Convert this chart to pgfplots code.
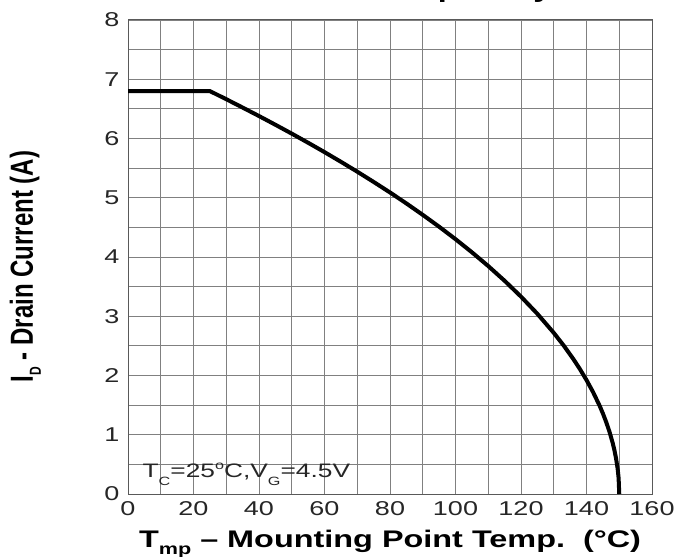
\documentclass[border=0pt]{standalone}
\usepackage{pgfplots}
\pgfplotsset{compat=1.18}
\usepackage{pgfplotstable}
\usepackage{fontspec}
\setmainfont[FakeStretch=1.35]{Liberation Sans}
\newfontfamily\plainfont{Liberation Sans}

\pgfplotstableread{
T I
0 6.8
25 6.8
30 6.663
35 6.522
40 6.379
45 6.232
50 6.082
55 5.928
60 5.770
65 5.607
70 5.440
75 5.267
80 5.089
85 4.904
90 4.711
95 4.511
100 4.301
105 4.080
110 3.847
115 3.598
120 3.331
125 3.041
130 2.720
133 2.508
136 2.276
138 2.107
140 1.923
142 1.720
144 1.490
145 1.360
146 1.216
147 1.053
148 0.860
148.5 0.745
149 0.608
149.5 0.430
149.8 0.272
150 0
}\curve

\begin{document}
\begin{tikzpicture}
\begin{axis}[
  scale only axis, width=524pt, height=474pt,
  at={(0,0)}, anchor=south west,
  xmin=0, xmax=160, ymin=0, ymax=8,
  xtick={0,20,...,160}, ytick={0,1,...,8},
  minor x tick num=1, minor y tick num=1,
  grid=both,
  grid style={black!50, line width=0.9pt},
  major grid style={black!50, line width=0.9pt},
  minor grid style={black!50, line width=0.9pt},
  major tick length=0pt, minor tick length=0pt,
  axis line style={black!65, line width=1pt},
  /pgf/number format/assume math mode=true,
  tick label style={font=\fontsize{20}{22}\selectfont, text=black!85},
  xticklabel style={yshift=-4pt},
  yticklabel style={xshift=-5pt},
  title={Current Capability},
  title style={at={(axis description cs:0.54,1)}, anchor=base, yshift=16pt,
    font=\bfseries\fontsize{24}{28}\selectfont, inner sep=0pt},
  xlabel={T\raisebox{-7pt}{\fontsize{16}{16}\selectfont mp} – Mounting Point Temp.\ \ (°C)},
  xlabel style={at={(axis description cs:0.5,-0.1139)}, anchor=base,
    font=\bfseries\fontsize{24}{28}\selectfont, inner sep=0pt},
  ylabel={\scalebox{1}[1.33]{I\raisebox{-6pt}{\fontsize{12}{12}\selectfont D} - Drain Current (A)}},
  ylabel style={at={(axis description cs:-0.1813,0.48)}, anchor=base,
    font=\plainfont\bfseries\fontsize{24}{28}\selectfont, inner sep=0pt},
]
\addplot[black, line width=4pt, line join=round] table[x=T, y=I] {\curve};
\node[anchor=base west, inner sep=0pt, text=black!85,
  font=\fontsize{19.5}{22}\selectfont] at (axis cs:4.4,0.28)
  {T\raisebox{-8.5pt}{\fontsize{12}{12}\selectfont C}=25\raisebox{8.4pt}{\fontsize{12}{12}\selectfont o}C,V\raisebox{-8.5pt}{\fontsize{12}{12}\selectfont G}=4.5V};
\end{axis}
\pgfresetboundingbox
\useasboundingbox (-128pt,-62pt) rectangle (548pt,494pt);
\end{tikzpicture}
\end{document}
